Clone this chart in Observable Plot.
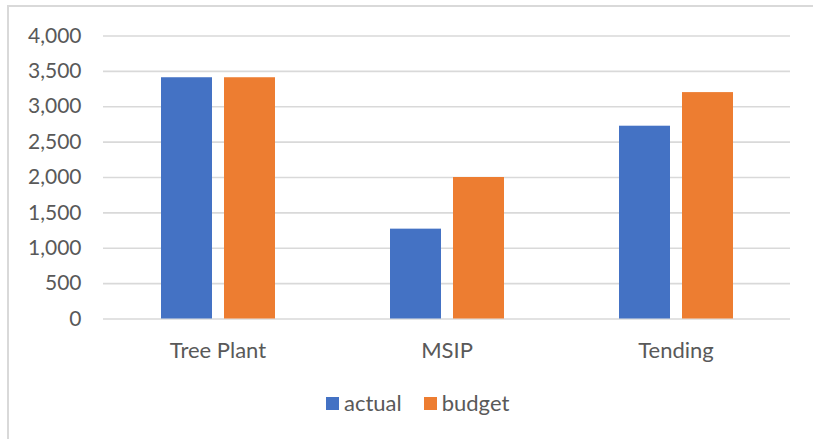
<!DOCTYPE html>
<html>
<head>
<meta charset="utf-8">
<script src="https://cdn.jsdelivr.net/npm/d3@7"></script>
<script src="https://cdn.jsdelivr.net/npm/@observablehq/plot@0.6"></script>
<style>
  body { margin: 0; background: #fff; }
  #chart { position: relative; width: 813px; height: 439px; overflow: hidden; font-family: Lato, "Open Sans", sans-serif; }
  #frame { position: absolute; left: 7px; top: 5px; width: 830px; height: 460px;
           border-left: 2px solid #d9d9d9; border-top: 2px solid #d9d9d9; box-sizing: border-box; }
  #plot { position: absolute; left: 0; top: 0; }
  #legend { position: absolute; left: 326px; top: 388px; display: flex; align-items: center;
            font-size: 22px; color: #595959; line-height: 30px; }
  #legend .item { display: flex; align-items: center; margin-right: 22px; }
  #legend .sw { width: 13px; height: 13px; margin-right: 5px; }
</style>
</head>
<body>
<div id="chart">
  <div id="frame"></div>
  <div id="plot"></div>
  <div id="legend"></div>
</div>
<script>
// Work programme: actual vs budget per activity
const categories = ["Tree Plant", "MSIP", "Tending"];
const seriesNames = ["actual", "budget"];
const actual = [3410, 1270, 2725];
const budget = [3410, 2000, 3200];
const yTicks = [0, 500, 1000, 1500, 2000, 2500, 3000, 3500, 4000];
const colors = ["#4472C4", "#ED7D31"];

const rows = categories.flatMap((c, i) => [
  {category: c, series: "actual", value: actual[i]},
  {category: c, series: "budget", value: budget[i]}
]);

const chart = Plot.plot({
  width: 813,
  height: 380,
  marginTop: 35.5,
  marginBottom: 61.5,
  marginLeft: 103,
  marginRight: 23,
  style: {fontFamily: "Lato, 'Open Sans', sans-serif", fontSize: "22px", color: "#595959", background: "transparent"},
  y: {domain: [0, 4000], label: null},
  fx: {domain: categories, padding: 0, label: null},
  x: {domain: seriesNames, paddingInner: 0.198, paddingOuter: 0.9, axis: null},
  color: {domain: seriesNames, range: colors},
  marks: [
    Plot.gridY(yTicks, {stroke: "#d9d9d9", strokeOpacity: 1, strokeWidth: 1.6}),
    Plot.axisY(yTicks, {tickSize: 0, tickPadding: 22, tickFormat: d3.format(","), fontSize: 21}),
    Plot.axisFx({anchor: "bottom", tickSize: 0, tickPadding: 23, label: null}),
    Plot.barY(rows, {fx: "category", x: "series", y: "value", fill: "series"})
  ]
});
document.getElementById("plot").appendChild(chart);

// legend below the chart
const legend = d3.select("#legend");
seriesNames.forEach((name, i) => {
  const item = legend.append("div").attr("class", "item");
  item.append("div").attr("class", "sw").style("background", colors[i]);
  item.append("span").text(name);
});
</script>
</body>
</html>
